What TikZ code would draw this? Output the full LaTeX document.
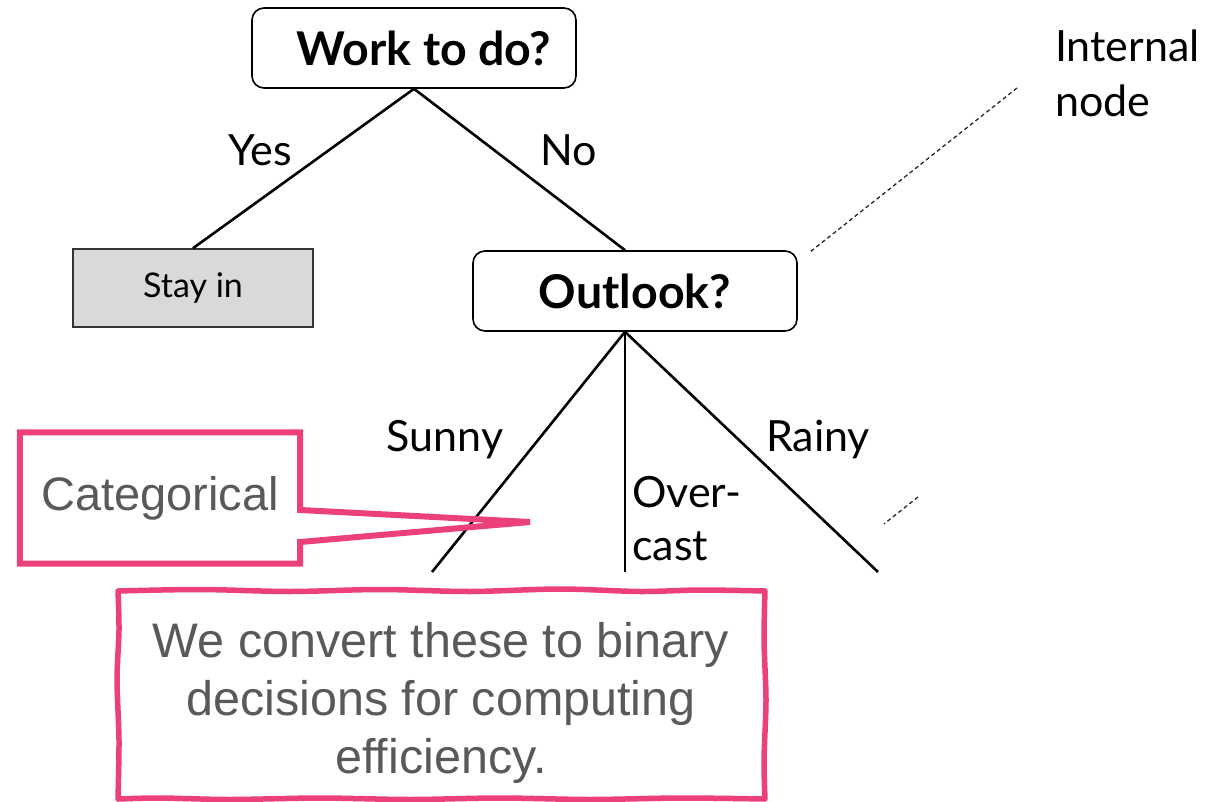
\documentclass[tikz,border=0pt]{standalone}
\usepackage{fontspec}
\setmainfont{Lato}
\newfontfamily\calloutfont{Liberation Sans}
\usetikzlibrary{calc}

\definecolor{calloutpink}{RGB}{236,64,122}
\definecolor{callouttext}{RGB}{89,89,89}
\definecolor{leafgray}{RGB}{217,217,217}

\tikzset{
  question/.style={draw=black, line width=1.6pt, rounded corners=12pt, fill=white,
    minimum width=324pt, minimum height=80pt, inner sep=0pt,
    font=\fontsize{46.5}{52}\selectfont\bfseries},
  leaf/.style={draw=black!80, line width=1.6pt, fill=leafgray,
    minimum width=240pt, minimum height=78pt, inner sep=0pt,
    font=\fontsize{34}{40}\selectfont},
  branch/.style={line width=2.6pt, black},
  edgelabel/.style={inner sep=0pt, anchor=base, font=\fontsize{43}{53}\selectfont},
  pointer/.style={line width=1.3pt, dash pattern=on 4pt off 3pt, black!85},
  callout/.style={draw=calloutpink, line width=6pt, line join=miter},
  callouttxt/.style={inner sep=0pt, text=callouttext,
    font=\calloutfont\fontsize{47}{57}\selectfont},
  notetxt/.style={inner sep=0pt, text=callouttext,
    font=\calloutfont\fontsize{48.5}{58}\selectfont}
}

\begin{document}
\begin{tikzpicture}[x=1pt, y=-1pt]
\useasboundingbox (0,0) rectangle (1212,802);

% decision nodes and the leaf
\node[question] (work) at (414,48) {\hspace*{20pt}Work to do?};
\node[leaf] (stay) at (193,288) {Stay in};
\node[question] (outlook) at (635,291) {Outlook?};

% attachment points on the outlook node
\coordinate (otop) at ([xshift=-10pt]outlook.north);
\coordinate (obot) at ([xshift=-10pt]outlook.south);

% first split
\draw[branch] (work.south) -- (stay.north);
\draw[branch] (work.south) -- (otop);
\node[edgelabel] (yes) at (260,166) {Yes};
\node[edgelabel] (no) at (569,166) {No};

% three-way split below the outlook node
\coordinate (sunnyend) at (432,572);
\coordinate (overend) at (625,572);
\coordinate (rainyend) at (878,572);
\draw[branch] (obot) -- (sunnyend);
\draw[branch] (obot) -- (overend);
\draw[branch] (obot) -- (rainyend);
\node[edgelabel] (sunny) at (445,451) {Sunny};
\node[edgelabel] (rainy) at (818,451) {Rainy};
\node[edgelabel, anchor=base west] (over) at (632,507) {Over-};
\node[edgelabel, anchor=base west] (cast) at (632,560) {cast};

% annotation for the internal node
\node[edgelabel, anchor=base west] (internal) at (1055,62) {Internal};
\node[edgelabel, anchor=base west] (nodeword) at (1055,117) {node};
\coordinate (ptrA) at (1017,88);
\coordinate (ptrB) at (810,252);
\draw[pointer] (ptrA) -- (ptrB);
\coordinate (ptrC) at (918,497);
\coordinate (ptrD) at (884,524);
\draw[pointer] (ptrC) -- (ptrD);

% "Categorical" speech callout
\node[callouttxt, minimum width=280pt, minimum height=131pt] (cat) at (160,498) {Categorical};
\coordinate (cattip) at (530,522);
\draw[callout] (cat.east |- 0,510) -- (cat.north east) -- (cat.north west)
  -- (cat.south west) -- (cat.south east) -- (cat.east |- 0,542) -- (cattip) -- cycle;

% hand-drawn note box, one slightly wavy stroke per side
\fill[white] (118,591) rectangle (765,799);
\draw[draw=calloutpink, line width=5.5pt, line join=round, line cap=round]
  plot[smooth, tension=0.5] coordinates {
    (118,591) (200,589.5) (290,591.5) (380,589.5) (470,591.5) (560,589) (640,591.5) (700,590) (765,591)}
  -- plot[smooth, tension=0.5] coordinates {
    (765,591) (764,640) (766,700) (764,760) (765,799)}
  -- plot[smooth, tension=0.5] coordinates {
    (765,799) (680,798) (590,799.5) (500,798) (410,799.5) (320,798) (230,799.5) (160,798) (118,799)}
  -- plot[smooth, tension=0.5] coordinates {
    (118,799) (119,740) (117,680) (119,630) (118,591)}
  -- cycle;
\node[notetxt, align=center] (note) at (441,703)
  {We convert these to binary\\decisions for computing\\efficiency.};
\end{tikzpicture}
\end{document}
